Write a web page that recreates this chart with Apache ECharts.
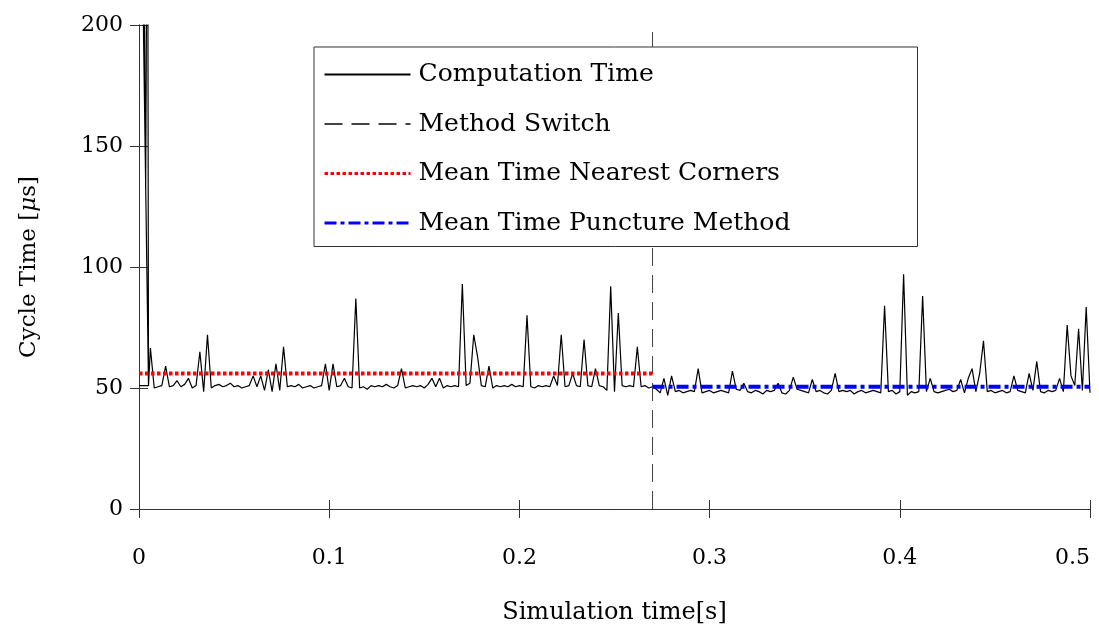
<!DOCTYPE html>
<html>
<head>
<meta charset="utf-8">
<script src="https://cdn.jsdelivr.net/npm/echarts@6/dist/echarts.min.js"></script>
<style>html,body{margin:0;padding:0;background:#fff;}#c{width:1099px;height:633px;}</style>
</head>
<body>
<div id="c"></div>
<script>
// ---- data ----
const xTicks = [0, 0.1, 0.2, 0.3, 0.4, 0.5];
const yTicks = [0, 50, 100, 150, 200];
// start-up transient (time [s], cycle time [us]); values above 200 are off scale
const startupTimes  = [0, 0.005, 0.0005, 0.002, 0.0035, 0.0045, 0.005];
const startupValues = [51, 51, 300, 300, 132, 300, 51];
// regular samples from t = 0.006 s every 0.002 s
const sampleStart = 0.006;
const sampleStep = 0.002;
const cycleTime = [
  66.5, 50, 50.5, 51, 59, 50.5, 51, 53, 50.5, 51.5,
  54, 50, 51, 65, 48.5, 72, 50, 51, 51.5, 50.5,
  51, 52, 50.5, 51, 50, 50.5, 51, 55, 50.5, 55,
  49, 57.5, 48.5, 60, 49, 67, 50.5, 51, 50.5, 51.5,
  50, 50.5, 51, 50, 50.5, 51, 60, 49, 60, 50.5,
  51, 54, 50.5, 50, 87, 50, 50.5, 49.5, 51, 50.5,
  51, 50.5, 51.5, 50.5, 50, 51, 58, 50, 50.5, 51,
  50.5, 51, 50, 51.5, 54, 50.5, 54, 50, 51, 50.5,
  51, 50.5, 93, 51, 52, 72, 63, 51, 50.5, 59,
  50, 51, 50.5, 51, 50.5, 51.5, 50.5, 51, 50.5, 80,
  50.5, 50, 51, 50.5, 51, 50.5, 55, 51, 72, 50.5,
  51, 56, 51, 50.5, 70, 51, 50.5, 58, 51, 50.5,
  49, 92, 48.5, 81, 51, 50.5, 51, 50.5, 67, 50.5,
  51, 50, 50.5,
  49.5, 48, 54, 47, 55, 48.5, 49,
  48, 48.5, 49, 48.5, 58, 48, 48.5, 49, 48, 48.5,
  49, 48.5, 48, 57, 49.5, 49, 52, 48.5, 48, 49,
  48.5, 47.5, 49, 48.5, 49, 52, 48, 47.5, 49, 54.5,
  49.5, 49, 48.5, 48, 53.5, 48.5, 49, 48, 47.5, 49,
  56, 48.5, 49, 48.5, 49, 47.5, 48.5, 49, 48, 48.5,
  49, 48.5, 48, 84, 48.5, 49, 47.5, 48.5, 97, 47,
  48.5, 48, 48.5, 88, 48.5, 54, 48.5, 48, 48.5, 49,
  49.5, 48.5, 49, 53.5, 48, 54, 58, 48.5, 56, 69.5,
  48.5, 49, 48, 48.5, 49, 48, 48.5, 55, 49, 48.5,
  48, 56, 49, 61, 48.5, 48, 49, 48.5, 49, 54,
  48.5, 76, 55, 51, 74.5, 49, 83.5, 48
];
const switchTime = 0.27;
const meanNearestCorners = 56;
const meanPuncture = 50.5;
const seriesNames = ['Computation Time', 'Method Switch', 'Mean Time Nearest Corners', 'Mean Time Puncture Method'];

// ---- build ----
const compData = [];
for (let i = 0; i < startupTimes.length; i++) compData.push([startupTimes[i], startupValues[i]]);
for (let k = 0; k < cycleTime.length; k++) compData.push([+(sampleStart + sampleStep * k).toFixed(4), cycleTime[k]]);

const FONT = 'DejaVu Serif';
const axisColor = '#333';
const baseAxis = {
  type: 'value',
  axisLine: { show: true, lineStyle: { color: axisColor, width: 1 } },
  axisTick: { show: true, inside: true, length: 9, lineStyle: { color: axisColor, width: 1 } },
  splitLine: { show: false }
};

const chart = echarts.init(document.getElementById('c'), null, { renderer: 'canvas' });
chart.setOption({
  animation: false,
  backgroundColor: '#fff',
  grid: { left: 139, right: 9, top: 25, bottom: 124, outerBoundsMode: 'none', containLabel: false },
  textStyle: { fontFamily: FONT },
  xAxis: [
    Object.assign({}, baseAxis, {
      min: xTicks[0], max: xTicks[xTicks.length - 1], interval: 0.1,
      position: 'bottom',
      name: 'Simulation time[s]', nameLocation: 'middle', nameGap: 92,
      nameTextStyle: { fontFamily: FONT, fontSize: 24, color: '#000' },
      axisLabel: { margin: 38, fontFamily: FONT, fontSize: 22, color: '#000', alignMaxLabel: 'right' }
    }),
    Object.assign({}, baseAxis, {
      min: xTicks[0], max: xTicks[xTicks.length - 1], interval: 0.1,
      position: 'top', axisLabel: { show: false }
    })
  ],
  yAxis: [
    Object.assign({}, baseAxis, {
      min: yTicks[0], max: yTicks[yTicks.length - 1], interval: 50,
      position: 'left',
      name: 'Cycle Time [{i|μ}s]', nameLocation: 'middle', nameGap: 98,
      nameTextStyle: { fontFamily: FONT, fontSize: 23, color: '#000',
        rich: { i: { fontFamily: FONT, fontSize: 23, fontStyle: 'italic', color: '#000' } } },
      axisLabel: { margin: 16, fontFamily: FONT, fontSize: 22, color: '#000' }
    }),
    Object.assign({}, baseAxis, {
      min: yTicks[0], max: yTicks[yTicks.length - 1], interval: 50,
      position: 'right', axisLabel: { show: false }
    })
  ],
  legend: {
    show: true,
    orient: 'vertical',
    left: 314, top: 47,
    padding: [15, 9, 11, 9],
    itemWidth: 86, itemHeight: 24, itemGap: 24.5,
    borderColor: '#333', borderWidth: 1,
    backgroundColor: '#fff',
    itemStyle: { opacity: 0 },
    textStyle: { fontFamily: FONT, fontSize: 25, color: '#000', width: 490, lineHeight: 24, padding: [0, 0, 0, 3] },
    data: [
      { name: seriesNames[0] },
      { name: seriesNames[1] },
      { name: seriesNames[2], lineStyle: { width: 3 } },
      { name: seriesNames[3], lineStyle: { width: 3 } }
    ]
  },
  series: [
    {
      name: seriesNames[0], type: 'line', data: compData, symbol: 'none', clip: true,
      lineStyle: { color: '#000', width: 1.2 }, itemStyle: { color: '#000' }, z: 2
    },
    {
      name: seriesNames[1], type: 'line', data: [[switchTime, yTicks[0]], [switchTime, yTicks[yTicks.length - 1]]],
      symbol: 'none', lineStyle: { color: '#444', width: 1, type: [18, 9] }, itemStyle: { color: '#444' }, z: 3
    },
    {
      name: seriesNames[2], type: 'line', data: [[0, meanNearestCorners], [switchTime, meanNearestCorners]],
      symbol: 'none', lineStyle: { color: '#ff0000', width: 4, type: [3.5, 2.5] }, itemStyle: { color: '#ff0000' }, z: 4
    },
    {
      name: seriesNames[3], type: 'line', data: [[switchTime, meanPuncture], [xTicks[xTicks.length - 1], meanPuncture]],
      symbol: 'none', lineStyle: { color: '#0000ff', width: 4, type: [12, 4, 4, 4] }, itemStyle: { color: '#0000ff' }, z: 4
    }
  ]
});
</script>
</body>
</html>
